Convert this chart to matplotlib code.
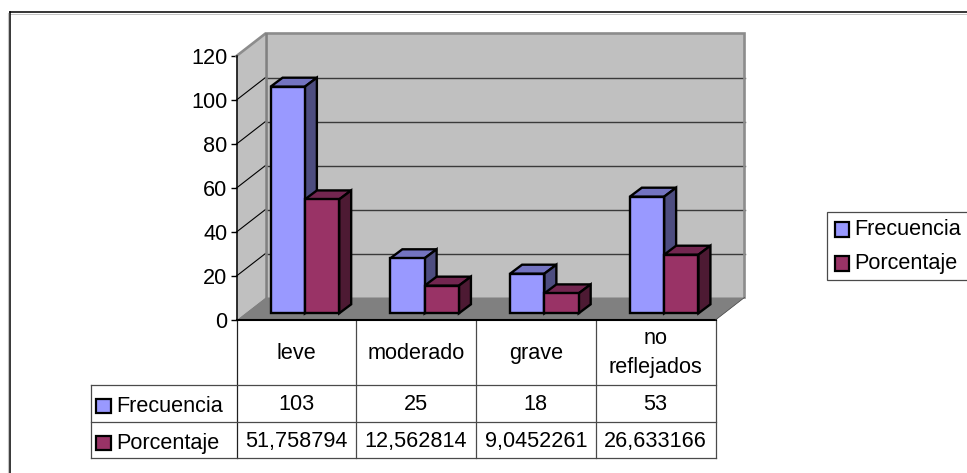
import matplotlib
matplotlib.use("Agg")
import matplotlib.pyplot as plt
from matplotlib.patches import Polygon, Rectangle

categories = ["leve", "moderado", "grave", "no\nreflejados"]
frecuencia = [103, 25, 18, 53]
porcentaje = [51.758794, 12.562814, 9.0452261, 26.633166]
frecuencia_labels = ["103", "25", "18", "53"]
porcentaje_labels = ["51,758794", "12,562814", "9,0452261", "26,633166"]
y_ticks = [0, 20, 40, 60, 80, 100, 120]

W, H = 967, 473
FONT = "Liberation Sans"
FS = 15.6
plt.rcParams["font.family"] = FONT

fig = plt.figure(figsize=(W / 100, H / 100), dpi=100, facecolor="white")

# pixel-space layer for frame, data table and legend
pa = fig.add_axes([0, 0, 1, 1])
pa.set_xlim(0, W)
pa.set_ylim(H, 0)
pa.axis("off")

# plot axes with the real scales
X0, X1, Y0, Y1 = 236.5, 715.5, 320, 56
ax = fig.add_axes([X0 / W, 1 - Y0 / H, (X1 - X0) / W, (Y0 - Y1) / H])
ax.set_xlim(0, 4)
ax.set_ylim(0, 120)
ax.patch.set_alpha(0)
for s in ["top", "right", "bottom"]:
    ax.spines[s].set_visible(False)
ax.spines["left"].set_linewidth(1.1)
ax.spines["left"].set_color("black")
ax.set_xticks([])
ax.set_yticks(y_ticks)
ax.tick_params(axis="y", length=4.5, width=1, pad=2.2, labelsize=FS)

ux = 4 / (X1 - X0)      # data units per pixel, x
uy = 120 / (Y0 - Y1)    # data units per pixel, y
WALL_DX, WALL_DY = 29 * ux, 22.5 * uy
FRONT_DX, FRONT_DY = 8.5 * ux, 6.7 * uy
BAR_DX, BAR_DY = 12 * ux, 9 * uy
BAR_W = 34.3 * ux
EDGE = 1.7


def poly(pts, fc, ec="none", lw=0, z=1):
    ax.add_patch(Polygon(pts, closed=True, facecolor=fc, edgecolor=ec, linewidth=lw,
                         zorder=z, clip_on=False, joinstyle="miter"))


# walls and floor
top = 120 + WALL_DY
poly([(0, 0), (WALL_DX, WALL_DY), (WALL_DX, top), (0, 120)], "#C0C0C0", z=1)
poly([(WALL_DX, WALL_DY), (4 + WALL_DX, WALL_DY), (4 + WALL_DX, top), (WALL_DX, top)], "#C0C0C0", z=1)
poly([(0, 0), (WALL_DX, WALL_DY), (4 + WALL_DX, WALL_DY), (4, 0)], "#808080", z=1.5)

for t in y_ticks[1:-1]:
    ax.plot([WALL_DX, 4 + WALL_DX], [t + WALL_DY, t + WALL_DY], color="#3A3A3A", lw=1.0, zorder=2, clip_on=False)
    ax.plot([0, WALL_DX], [t, t + WALL_DY], color="black", lw=0.8, zorder=2, clip_on=False)

ax.plot([0, WALL_DX, 4 + WALL_DX, 4 + WALL_DX], [120, top, top, WALL_DY], color="#8C8C8C", lw=1.9,
        zorder=2.5, clip_on=False, solid_joinstyle="miter")
ax.plot([WALL_DX, WALL_DX], [WALL_DY, top], color="#808080", lw=1.9, zorder=2.5, clip_on=False)
ax.plot([0, 4], [0, 0], color="black", lw=1.5, zorder=2.5, clip_on=False)
ax.plot([4, 4 + WALL_DX], [0, WALL_DY], color="#404040", lw=0.5, zorder=2.5, clip_on=False)

series = [
    (frecuencia, "#9999FF", "#7373C0", "#4D4D80"),
    (porcentaje, "#993366", "#732650", "#4D1A33"),
]
z = 3.0
for i in range(len(categories)):
    left = i + 0.5 - BAR_W + FRONT_DX
    for j, (vals, fc, tc, sc) in enumerate(series):
        v = vals[i]
        x = left + j * BAR_W
        b = FRONT_DY
        t = v + FRONT_DY
        poly([(x, t), (x + BAR_DX, t + BAR_DY), (x + BAR_W + BAR_DX, t + BAR_DY), (x + BAR_W, t)],
             tc, "black", EDGE, z)
        poly([(x + BAR_W, b), (x + BAR_W + BAR_DX, b + BAR_DY), (x + BAR_W + BAR_DX, t + BAR_DY), (x + BAR_W, t)],
             sc, "black", EDGE, z)
        ax.bar(x, v, width=BAR_W, bottom=b, align="edge", color=fc, edgecolor="black",
               linewidth=EDGE, zorder=z + 0.1, clip_on=False)
        z += 0.2

# outer frame: only top and left edges fall inside the picture
pa.plot([9.5, W], [12.5, 12.5], color="black", lw=1.1)
pa.plot([9.5, W], [14, 14], color="#C4C4C4", lw=0.7)
pa.plot([9.5, 9.5], [12.5, H], color="black", lw=1.1)
pa.plot([8.2, 8.2], [13, H], color="#C4C4C4", lw=0.8)

# data table
LINE = "#4A4A4A"
col_x = [X0 + k * (X1 - X0) / 4 for k in range(5)]
rows = [385, 422, 458]
for k, xv in enumerate(col_x):
    pa.plot([xv, xv], [320, rows[-1]], color="#202020" if k == 0 else LINE, lw=0.9)
pa.plot([91, 91], [rows[0], rows[-1]], color=LINE, lw=0.9)
for yv in rows:
    pa.plot([91, X1], [yv, yv], color=LINE, lw=0.9)

for k, c in enumerate(categories):
    cx = (col_x[k] + col_x[k + 1]) / 2
    pa.text(cx, 353, c, ha="center", va="center", fontsize=FS, linespacing=1.5)
    pa.text(cx, 404, frecuencia_labels[k], ha="center", va="center", fontsize=FS)
    pa.text(cx, 441, porcentaje_labels[k], ha="center", va="center", fontsize=FS)


def key(x, y, color, label):
    pa.add_patch(Rectangle((x, y), 14.5, 14.5, facecolor=color, edgecolor="black", linewidth=1.6))
    pa.text(x + 20, y + 7.5, label, ha="left", va="center", fontsize=FS)


key(96, 398.5, "#9999FF", "Frecuencia")
key(96, 435.5, "#993366", "Porcentaje")

# legend
pa.add_patch(Rectangle((826.5, 211.5), 200, 68.5, facecolor="white", edgecolor=LINE, linewidth=0.9))
key(834.5, 222, "#9999FF", "Frecuencia")
key(834.5, 256, "#993366", "Porcentaje")

fig.savefig("out.png", dpi=100)
